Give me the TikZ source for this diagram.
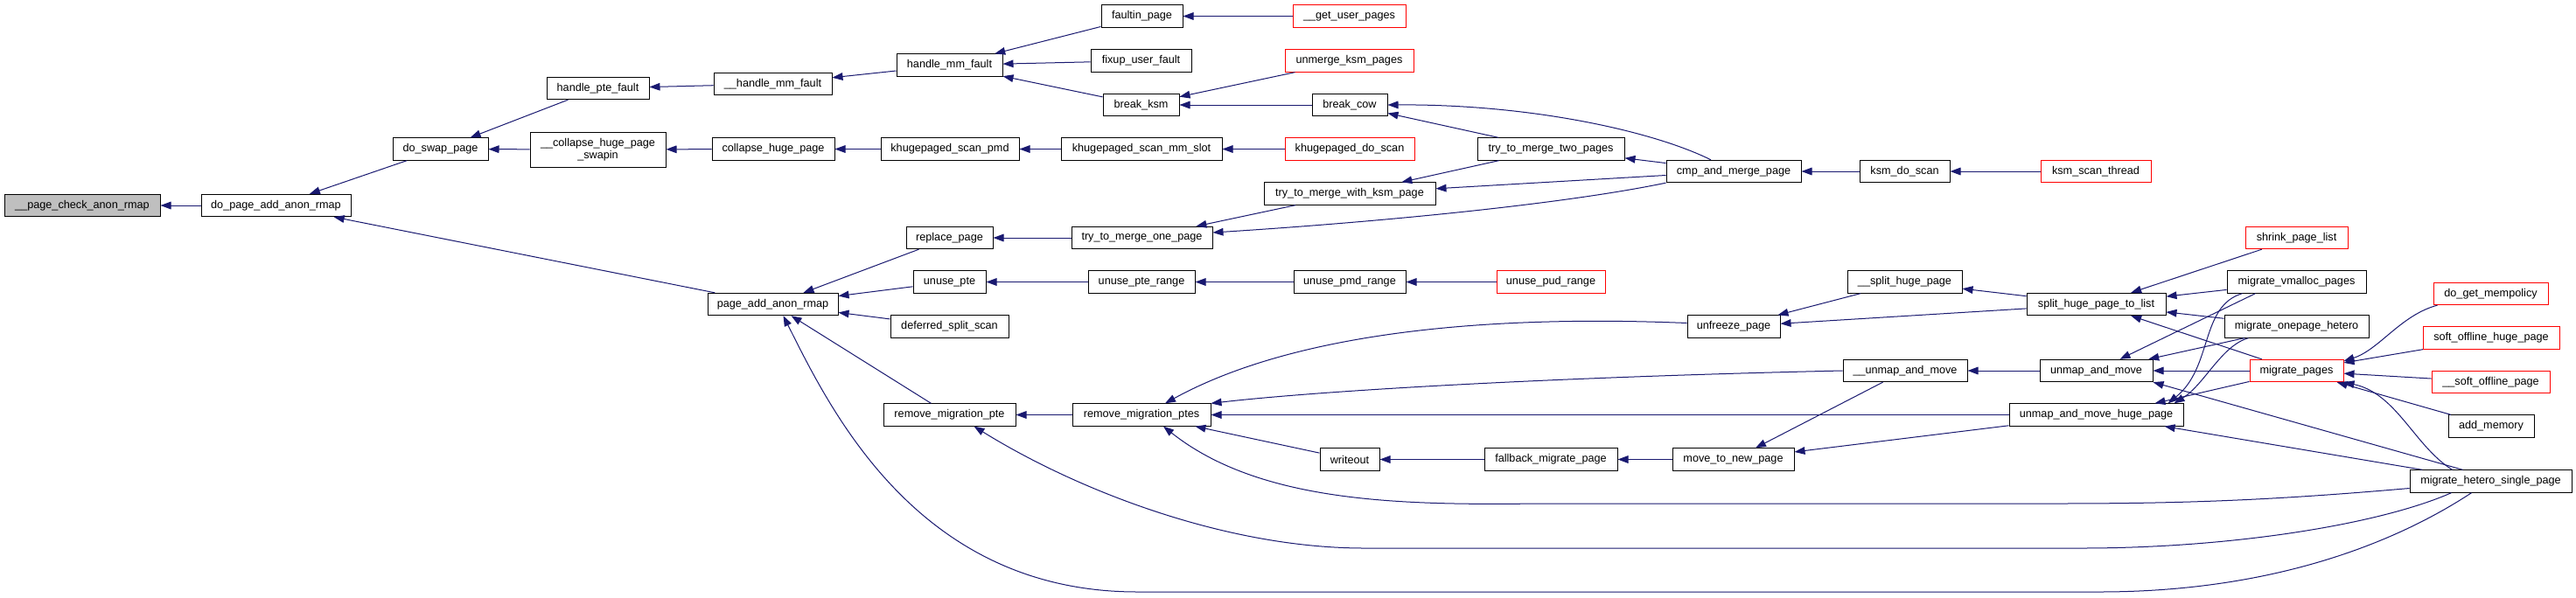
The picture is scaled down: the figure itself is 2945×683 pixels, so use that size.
\documentclass[tikz,border=0pt]{standalone}
\usepackage{fontspec}
\setmainfont{Liberation Sans}
\usetikzlibrary{arrows.meta,calc}
\definecolor{edgec}{HTML}{191970}
\definecolor{rootc}{HTML}{BFBFBF}
\begin{document}
\begin{tikzpicture}[x=0.75pt,y=-0.75pt,
  nd/.style={draw=black,line width=0.75pt,fill=white,minimum height=19pt,inner sep=0pt,font=\fontsize{9.5}{10.5}\selectfont,align=center},
  pw/.style={minimum width=#1*0.75pt},
  rd/.style={draw=red},
  e/.style={draw=edgec,line width=0.75pt,-{Triangle[length=9pt,width=6.5pt]}},
]
\useasboundingbox (0,0) rectangle (2945,683);
\fill[white] (0,0) rectangle (2945,683);
% nodes
\node[nd,fill=rootc,pw=178] (pcar) at (94,235) {\_\_page\_check\_anon\_rmap};
\node[nd,pw=171] (dpaar) at (315.5,235) {do\_page\_add\_anon\_rmap};
\node[nd,pw=109] (dsp) at (503.5,170.5) {do\_swap\_page};
\node[nd,pw=117] (hpf) at (683.5,101) {handle\_pte\_fault};
\node[nd,pw=155,minimum height=30pt] (chps) at (683.5,171) {\_\_collapse\_huge\_page\\\_swapin};
\node[nd,pw=135] (uhmf) at (883.5,96) {\_\_handle\_mm\_fault};
\node[nd,pw=121] (hmf) at (1085.5,74.5) {handle\_mm\_fault};
\node[nd,pw=93] (fp) at (1305.5,18.5) {faultin\_page};
\node[nd,pw=115] (fuf) at (1304.5,69.5) {fixup\_user\_fault};
\node[nd,pw=87] (bk) at (1304.5,120) {break\_ksm};
\node[nd,pw=140] (chp) at (884,170.5) {collapse\_huge\_page};
\node[nd,pw=158] (ksp) at (1086,170.5) {khugepaged\_scan\_pmd};
\node[nd,pw=184] (ksms) at (1305,170.5) {khugepaged\_scan\_mm\_slot};
\node[nd,pw=99] (rp) at (1085.5,272) {replace\_page};
\node[nd,pw=161] (ttmop) at (1305.5,272) {try\_to\_merge\_one\_page};
\node[nd,pw=196] (ttmwk) at (1543,221.5) {try\_to\_merge\_with\_ksm\_page};
\node[nd,pw=83] (up) at (1085.5,322.5) {unuse\_pte};
\node[nd,pw=122] (upr) at (1305,322.5) {unuse\_pte\_range};
\node[nd,pw=149] (paar) at (883.5,348) {page\_add\_anon\_rmap};
\node[nd,pw=135] (dss) at (1085.5,373.5) {deferred\_split\_scan};
\node[nd,pw=151] (rmp) at (1085.5,474.5) {remove\_migration\_pte};
\node[nd,pw=158] (rmps) at (1305,474.5) {remove\_migration\_ptes};
\node[nd,rd,pw=129] (gup) at (1542.5,18.5) {\_\_get\_user\_pages};
\node[nd,rd,pw=147] (uksm) at (1542.5,69.5) {unmerge\_ksm\_pages};
\node[nd,pw=86] (bc) at (1543,120) {break\_cow};
\node[nd,rd,pw=148] (kds) at (1543,170.5) {khugepaged\_do\_scan};
\node[nd,pw=128] (upmd) at (1543,322.5) {unuse\_pmd\_range};
\node[nd,pw=68] (wo) at (1543,525.5) {writeout};
\node[nd,pw=168] (ttm2p) at (1773,170.5) {try\_to\_merge\_two\_pages};
\node[nd,rd,pw=124] (upud) at (1773,322.5) {unuse\_pud\_range};
\node[nd,pw=152] (fmp) at (1773,525.5) {fallback\_migrate\_page};
\node[nd,pw=154] (cmp) at (1982,196) {cmp\_and\_merge\_page};
\node[nd,pw=106] (unf) at (1982,373.5) {unfreeze\_page};
\node[nd,pw=139] (mtnp) at (1981.5,525.5) {move\_to\_new\_page};
\node[nd,pw=103] (kdscan) at (2177.5,196) {ksm\_do\_scan};
\node[nd,pw=131] (shp) at (2177.5,322.5) {\_\_split\_huge\_page};
\node[nd,pw=142] (uamv) at (2178,424) {\_\_unmap\_and\_move};
\node[nd,rd,pw=126] (kst) at (2396,196) {ksm\_scan\_thread};
\node[nd,pw=159] (shptl) at (2396.5,348) {split\_huge\_page\_to\_list};
\node[nd,pw=129] (uam) at (2396.5,424) {unmap\_and\_move};
\node[nd,pw=199] (umhp) at (2396.5,474.5) {unmap\_and\_move\_huge\_page};
\node[nd,rd,pw=117] (spl) at (2625.5,272) {shrink\_page\_list};
\node[nd,pw=159] (mvp) at (2625.5,322.5) {migrate\_vmalloc\_pages};
\node[nd,pw=165] (moh) at (2625.5,373.5) {migrate\_onepage\_hetero};
\node[nd,rd,pw=107] (mp) at (2625.5,424) {migrate\_pages};
\node[nd,rd,pw=131] (dgm) at (2847.5,336) {do\_get\_mempolicy};
\node[nd,rd,pw=156] (sohp) at (2848,386.5) {soft\_offline\_huge\_page};
\node[nd,rd,pw=135] (sop) at (2847.5,437) {\_\_soft\_offline\_page};
\node[nd,pw=98] (am) at (2848,487.5) {add\_memory};
\node[nd,pw=185] (mhsp) at (2847.5,550.5) {migrate\_hetero\_single\_page};
% edges
\draw[e] (dpaar) -- (pcar);
\draw[e] (dsp) -- (dpaar);
\draw[e] (paar) -- (dpaar);
\draw[e] (hpf) -- (dsp);
\draw[e] (chps) -- (dsp);
\draw[e] (uhmf) -- (hpf);
\draw[e] (hmf) -- (uhmf);
\draw[e] (fp) -- (hmf);
\draw[e] (fuf) -- (hmf);
\draw[e] (bk) -- (hmf);
\draw[e] (gup) -- (fp);
\draw[e] (uksm) -- (bk);
\draw[e] (bc) -- (bk);
\draw[e] ($(cmp.north)+(-26,0)$) .. controls (1890,150) and (1750,119) .. (bc.east);
\draw[e] (ttm2p) -- (bc);
\draw[e] (chp) -- (chps);
\draw[e] (ksp) -- (chp);
\draw[e] (ksms) -- (ksp);
\draw[e] (kds) -- (ksms);
\draw[e] (cmp) -- (ttm2p);
\draw[e] (ttm2p) -- (ttmwk);
\draw[e] (cmp) -- (ttmwk);
\draw[e] (kdscan) -- (cmp);
\draw[e] (kst) -- (kdscan);
\draw[e] (ttmwk) -- (ttmop);
\draw[e] (cmp.south west) .. controls (1780,235) and (1560,255) .. ($(ttmop.east)+(0,-6)$);
\draw[e] (ttmop) -- (rp);
\draw[e] (rp) -- (paar);
\draw[e] (up) -- (paar);
\draw[e] (upr) -- (up);
\draw[e] (upmd) -- (upr);
\draw[e] (upud) -- (upmd);
\draw[e] (dss) -- (paar);
\draw[e] (rmp) -- (paar);
\draw[e] ($(mhsp.south)+(-22,0)$) .. controls (2740,620) and (2600,677) .. (2400,677) -- (1300,677) .. controls (1050,677) and (950,470) .. ($(paar.south)+(12,0)$);
\draw[e] (rmps) -- (rmp);
\draw[e] ($(mhsp.south)+(-45,0)$) .. controls (2720,600) and (2550,627) .. (2380,627) -- (1560,627) .. controls (1400,627) and (1230,560) .. ($(rmp.south)+(28,0)$);
\draw[e] ($(unf.west)+(0,-4)$) .. controls (1700,360) and (1480,380) .. ($(rmps.north)+(27,0)$);
\draw[e] (uamv.west) .. controls (1750,432) and (1500,448) .. (rmps.north east);
\draw[e] (umhp) -- (rmps);
\draw[e] (wo) -- (rmps);
\draw[e] ($(mhsp.west)+(0,8)$) .. controls (2600,572) and (2500,576) .. (2350,576) -- (1760,576) .. controls (1600,578) and (1440,575) .. ($(rmps.south)+(25,0)$);
\draw[e] (shp) -- (unf);
\draw[e] (shptl) -- (unf);
\draw[e] (shptl) -- (shp);
\draw[e] (spl) -- (shptl);
\draw[e] (mvp) -- (shptl);
\draw[e] (moh) -- (shptl);
\draw[e] (mp) -- (shptl);
\draw[e] (fmp) -- (wo);
\draw[e] (mtnp) -- (fmp);
\draw[e] (uamv) -- (mtnp);
\draw[e] (umhp) -- (mtnp);
\draw[e] (uam) -- (uamv);
\draw[e] ($(mvp.south)+(-47,0)$) -- ($(uam.north)+(27,0)$);
\draw[e] (moh) -- (uam);
\draw[e] (mp) -- (uam);
\draw[e] ($(mhsp.north)+(-32,0)$) -- (uam.south east);
\draw[e] ($(mvp.south)+(-62,0)$) .. controls (2515,350) and (2530,420) .. ($(umhp.north)+(82,0)$);
\draw[e] ($(moh.south)+(-55,0)$) .. controls (2540,395) and (2520,440) .. ($(umhp.north)+(89,0)$);
\draw[e] (mp) -- ($(umhp.north)+(67,0)$);
\draw[e] (mhsp) -- (umhp);
\draw[e] ($(dgm.south west)+(5,0)$) .. controls (2745,360) and (2720,400) .. ($(mp.east)+(0,-11)$);
\draw[e] (sohp) -- (mp);
\draw[e] (sop) -- (mp);
\draw[e] (am) -- (mp);
\draw[e] ($(mhsp.north)+(-44,0)$) .. controls (2760,510) and (2740,450) .. (mp.south east);
\end{tikzpicture}
\end{document}
